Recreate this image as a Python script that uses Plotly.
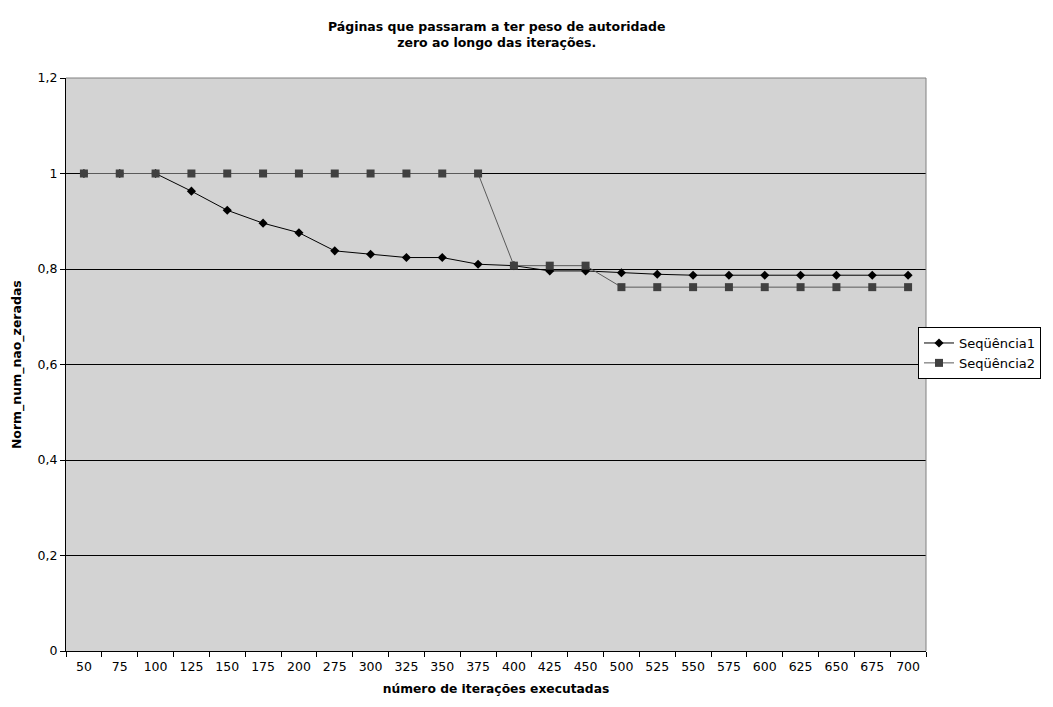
import plotly.graph_objects as go

# iteration counts (category axis)
iteracoes = ["50", "75", "100", "125", "150", "175", "200", "275", "300", "325", "350", "375",
             "400", "425", "450", "500", "525", "550", "575", "600", "625", "650", "675", "700"]

seq1 = [1.0, 1.0, 1.0, 0.963, 0.923, 0.896, 0.876, 0.838, 0.831, 0.824, 0.824, 0.810,
        0.807, 0.796, 0.796, 0.792, 0.789, 0.787, 0.787, 0.787, 0.787, 0.787, 0.787, 0.787]

seq2 = [1.0, 1.0, 1.0, 1.0, 1.0, 1.0, 1.0, 1.0, 1.0, 1.0, 1.0, 1.0,
        0.807, 0.807, 0.807, 0.762, 0.762, 0.762, 0.762, 0.762, 0.762, 0.762, 0.762, 0.762]

font_family = "DejaVu Sans, Verdana, sans-serif"

fig = go.Figure()
fig.add_trace(go.Scatter(
    x=iteracoes, y=seq1, name="Seqüência1", mode="lines+markers",
    line=dict(color="#000000", width=1),
    marker=dict(symbol="diamond", size=7, color="#000000"),
))
fig.add_trace(go.Scatter(
    x=iteracoes, y=seq2, name="Seqüência2", mode="lines+markers",
    line=dict(color="#5a5a5a", width=1),
    marker=dict(symbol="square", size=8, color="#404040"),
))

fig.update_layout(
    width=1053, height=707,
    margin=dict(l=66, r=125, t=78, b=56),
    paper_bgcolor="#ffffff",
    plot_bgcolor="#d3d3d3",
    separators=",.",
    font=dict(family=font_family, size=12.5, color="#000000"),
    title=dict(
        text="<b>Páginas que passaram a ter peso de autoridade<br>zero ao longo das iterações.</b>",
        x=0.4717, xanchor="center", yref="container", y=1 - 31 / 707, yanchor="top",
        font=dict(family=font_family, size=12.5, color="#000000"),
    ),
    showlegend=True,
    legend=dict(
        x=0.9907, xanchor="left", y=0.5654, yanchor="top",
        bgcolor="#ffffff", bordercolor="#000000", borderwidth=1,
        font=dict(family=font_family, size=13, color="#000000"),
        tracegroupgap=0, itemwidth=30,
    ),
    xaxis=dict(
        type="category", range=[-0.5, len(iteracoes) - 0.5],
        showgrid=False, zeroline=False,
        showline=True, linecolor="#000000", linewidth=1,
        ticks="outside", ticklen=5, tickcolor="#000000", tickson="boundaries",
        tickfont=dict(family=font_family, size=12.5), ticklabelstandoff=4,
        title=dict(text="<b>número de iterações executadas</b>", standoff=11,
                   font=dict(family=font_family, size=12.3)),
    ),
    yaxis=dict(
        range=[0, 1.2], dtick=0.2, tick0=0,
        showgrid=True, gridcolor="#000000", gridwidth=1,
        zeroline=False,
        showline=True, linecolor="#000000", linewidth=1,
        ticks="outside", ticklen=5, tickcolor="#000000",
        tickfont=dict(family=font_family, size=12.5),
    ),
    annotations=[dict(
        text="<b>Norm_num_nao_zeradas</b>", textangle=-90,
        xref="paper", yref="paper", x=(17 - 66) / 862, y=(651 - 365) / 573,
        xanchor="center", yanchor="middle", showarrow=False,
        font=dict(family=font_family, size=12.5, color="#000000"),
    )],
)

# gray frame on the top and right edges of the plot area
fig.add_shape(type="line", xref="paper", yref="paper", x0=0, x1=1, y0=1, y1=1,
              line=dict(color="#808080", width=1), layer="above")
fig.add_shape(type="line", xref="paper", yref="paper", x0=1, x1=1, y0=0, y1=1,
              line=dict(color="#808080", width=1), layer="above")

fig.write_html("out.html")
